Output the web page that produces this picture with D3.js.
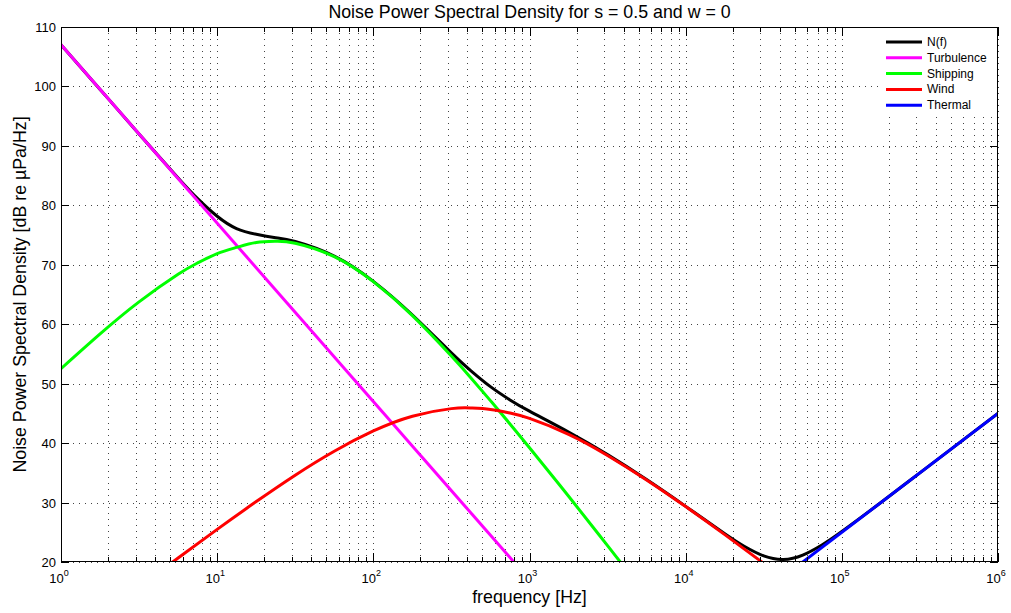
<!DOCTYPE html>
<html>
<head>
<meta charset="utf-8">
<script src="https://cdn.jsdelivr.net/npm/d3@7"></script>
<style>
  body { margin: 0; background: #fff; }
  text { font-family: "Liberation Sans", Arial, sans-serif; }
</style>
</head>
<body>
<div id="chart"></div>
<script>
// values (frequency in Hz, level in dB re uPa/Hz)
const totalFreq = [1, 1.78, 3.16, 5.62, 7.5, 10, 13.3, 17.8, 23.7, 31.6, 56.2, 100, 178, 316, 422, 562, 750,
  1000, 1780, 3160, 5620, 10000, 17800, 23700, 31600, 42200, 56200, 75000, 100000, 178000, 316000, 562000, 1000000];
const totalVals = [107.0, 99.5, 92.01, 84.61, 81.13, 78.17, 76.1, 75.13, 74.56, 73.91, 71.45, 67.21, 61.55, 55.19, 52.16, 49.5, 47.27,
  45.37, 41.86, 38.06, 33.86, 29.36, 24.76, 22.65, 21.03, 20.43, 21.17, 22.91, 25.13, 30.01, 35.0, 40.0, 45.0];

const turbFreq = [1, 1000];
const turbVals = [107, 17];

const shipFreq = [1, 1.78, 3.16, 5.62, 7.5, 10, 13.3, 17.8, 23.7, 31.6, 56.2, 100, 178, 316, 422, 562, 750, 1000, 1780, 3160, 5620];
const shipVals = [52.52, 58.37, 63.76, 68.4, 70.31, 71.88, 72.92, 73.74, 73.95, 73.62, 71.36, 67.16, 61.44, 54.64, 50.96, 47.15, 43.23, 39.23, 31.06, 22.75, 14.36];

const windFreq = [3.16, 5.62, 10, 17.8, 31.6, 56.2, 100, 178, 316, 422, 562, 750, 1000, 1780, 3160, 5620, 10000, 17800, 31600, 56200];
const windVals = [15.78, 20.68, 25.49, 30.16, 34.6, 38.63, 42.04, 44.53, 45.8, 45.91, 45.67, 45.07, 44.15, 41.48, 37.93, 33.81, 29.32, 24.61, 19.78, 14.88];

const thermFreq = [10000, 1000000];
const thermVals = [5, 45];

const yTicks = [20, 30, 40, 50, 60, 70, 80, 90, 100, 110];
const xDecades = [0, 1, 2, 3, 4, 5, 6];

const series = [
  { name: "N(f)", color: "#000000", f: totalFreq, v: totalVals },
  { name: "Turbulence", color: "#ff00ff", f: turbFreq, v: turbVals },
  { name: "Shipping", color: "#00ff00", f: shipFreq, v: shipVals },
  { name: "Wind", color: "#ff0000", f: windFreq, v: windVals },
  { name: "Thermal", color: "#0000ff", f: thermFreq, v: thermVals }
];

const width = 1011, height = 613;
const margin = { top: 27, right: 13, bottom: 51, left: 61 };

const svg = d3.select("#chart").append("svg")
  .attr("width", width)
  .attr("height", height);

const x = d3.scaleLog()
  .domain([1, 1e6])
  .range([margin.left, width - margin.right]);

const y = d3.scaleLinear()
  .domain([20, 110])
  .range([height - margin.bottom, margin.top]);

const x0 = margin.left, x1 = width - margin.right;
const y0 = height - margin.bottom, y1 = margin.top;

// minor tick values 2..9 in every decade
const minorTicks = [];
xDecades.slice(0, -1).forEach(d => {
  for (let k = 2; k <= 9; k++) minorTicks.push(k * Math.pow(10, d));
});
const majorTicks = xDecades.map(d => Math.pow(10, d));

// grid
const grid = svg.append("g")
  .attr("stroke", "#444")
  .attr("stroke-width", 1)
  .attr("stroke-dasharray", "1,5")
  .attr("shape-rendering", "crispEdges");

majorTicks.concat(minorTicks).forEach(t => {
  const px = Math.round(x(t)) + 0.5;
  grid.append("line").attr("x1", px).attr("x2", px).attr("y1", y0).attr("y2", y1);
});
yTicks.forEach(t => {
  const py = Math.round(y(t)) + 0.5;
  grid.append("line").attr("x1", x0).attr("x2", x1).attr("y1", py).attr("y2", py);
});

// curves, clipped to the axes box
svg.append("clipPath").attr("id", "plot-clip")
  .append("rect")
  .attr("x", x0).attr("y", y1)
  .attr("width", x1 - x0).attr("height", y0 - y1);

const line = d3.line()
  .x(d => x(d[0]))
  .y(d => y(d[1]))
  .curve(d3.curveNatural);

const curves = svg.append("g").attr("clip-path", "url(#plot-clip)");
series.forEach(s => {
  curves.append("path")
    .datum(s.f.map((f, i) => [f, s.v[i]]))
    .attr("d", line)
    .attr("fill", "none")
    .attr("stroke", s.color)
    .attr("stroke-width", 3)
    .attr("stroke-linejoin", "round");
});

// legend background (drawn before ticks so ticks stay visible)
const legend = svg.append("g");
legend.append("rect")
  .attr("x", 880).attr("y", y1 + 1)
  .attr("width", x1 - 881).attr("height", 86)
  .attr("fill", "#fff");

// ticks (inward, all four sides)
const ticks = svg.append("g")
  .attr("stroke", "#000")
  .attr("stroke-width", 1)
  .attr("shape-rendering", "crispEdges");

majorTicks.forEach(t => {
  const px = Math.round(x(t)) + 0.5;
  ticks.append("line").attr("x1", px).attr("x2", px).attr("y1", y0).attr("y2", y0 - 9);
  ticks.append("line").attr("x1", px).attr("x2", px).attr("y1", y1).attr("y2", y1 + 9);
});
minorTicks.forEach(t => {
  const px = Math.round(x(t)) + 0.5;
  ticks.append("line").attr("x1", px).attr("x2", px).attr("y1", y0).attr("y2", y0 - 5);
  ticks.append("line").attr("x1", px).attr("x2", px).attr("y1", y1).attr("y2", y1 + 5);
});
yTicks.forEach(t => {
  const py = Math.round(y(t)) + 0.5;
  ticks.append("line").attr("x1", x0).attr("x2", x0 + 8).attr("y1", py).attr("y2", py);
  ticks.append("line").attr("x1", x1).attr("x2", x1 - 8).attr("y1", py).attr("y2", py);
});

// axes box
svg.append("rect")
  .attr("x", x0 + 0.5).attr("y", y1 + 0.5)
  .attr("width", x1 - x0 - 1).attr("height", y0 - y1 - 1)
  .attr("fill", "none")
  .attr("stroke", "#000")
  .attr("stroke-width", 1)
  .attr("shape-rendering", "crispEdges");

// legend entries
series.forEach((s, i) => {
  const ly = 42 + i * 15.8;
  legend.append("line")
    .attr("x1", 886).attr("x2", 922)
    .attr("y1", ly).attr("y2", ly)
    .attr("stroke", s.color)
    .attr("stroke-width", 3);
  legend.append("text")
    .attr("x", 927)
    .attr("y", ly + 4)
    .attr("font-size", 12)
    .text(s.name);
});
legend.raise();

// y tick labels
svg.append("g").selectAll("text")
  .data(yTicks)
  .join("text")
  .attr("x", x0 - 5)
  .attr("y", d => y(d) + 5)
  .attr("text-anchor", "end")
  .attr("font-size", 13)
  .text(d => d);

// x tick labels 10^n
const xl = svg.append("g").selectAll("text")
  .data(xDecades)
  .join("text")
  .attr("x", d => x(Math.pow(10, d)) - 2)
  .attr("y", y0 + 21)
  .attr("text-anchor", "middle")
  .attr("font-size", 13);
xl.append("tspan").text("10");
xl.append("tspan")
  .attr("font-size", 9)
  .attr("dy", -7)
  .text(d => d);

// title and axis labels
svg.append("text")
  .attr("x", (x0 + x1) / 2)
  .attr("y", 18)
  .attr("text-anchor", "middle")
  .attr("font-size", 17.8)
  .text("Noise Power Spectral Density for s = 0.5 and w = 0");

svg.append("text")
  .attr("x", (x0 + x1) / 2)
  .attr("y", 603)
  .attr("text-anchor", "middle")
  .attr("font-size", 17.8)
  .text("frequency [Hz]");

svg.append("text")
  .attr("transform", `translate(26,${(y0 + y1) / 2}) rotate(-90)`)
  .attr("text-anchor", "middle")
  .attr("font-size", 17.8)
  .text("Noise Power Spectral Density [dB re \u00b5Pa/Hz]");
</script>
</body>
</html>
